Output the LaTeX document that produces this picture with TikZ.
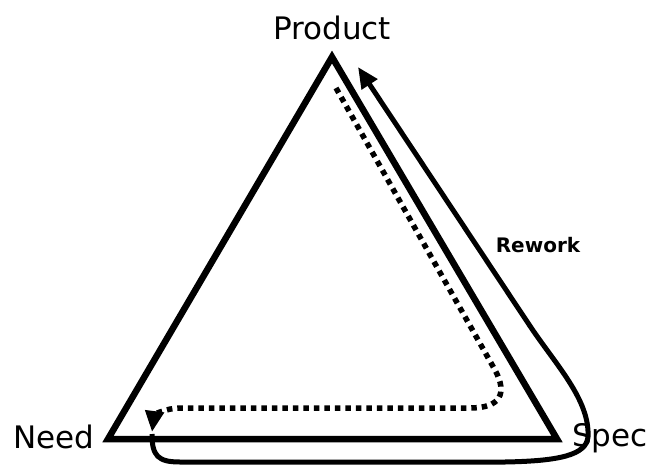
\documentclass[tikz,border=0pt]{standalone}
\usepackage{fontspec}
\setmainfont{DejaVu Sans}
\usetikzlibrary{arrows.meta}
\begin{document}
\begin{tikzpicture}[x=1pt,y=-1pt,
  edge/.style={line width=6.5pt,line join=miter},
  dotline/.style={line width=5.5pt,dash pattern=on 5.5pt off 5pt},
  rework/.style={line width=5pt},
  tip/.style={-{Triangle[length=21pt,width=18pt]}},
  lbl/.style={font=\fontsize{31}{34}\selectfont,inner sep=0pt},
  small/.style={font=\bfseries\fontsize{20}{22}\selectfont,inner sep=0pt}]
\useasboundingbox (0,0) rectangle (657,464);
\coordinate (top) at (332,57);
\coordinate (left) at (108,439);
\coordinate (right) at (557,439);
\draw[edge] (top) -- (right) -- (left) -- cycle;
% dotted path
\coordinate (d0) at (336,88);
\coordinate (d1) at (495,370);
\coordinate (d2) at (470,408);
\coordinate (d3) at (180,408);
\coordinate (d4) at (152,432);
\draw[dotline,tip] (d0) -- (d1) .. controls (508,394) and (500,408) .. (d2) -- (d3) .. controls (165,408) and (154,416) .. (d4);
% rework path
\coordinate (r0) at (152,434);
\coordinate (r1) at (180,462);
\coordinate (r2) at (505,462);
\coordinate (r3) at (588,437);
\coordinate (r4) at (530,326);
\coordinate (r5) at (358,67);
\draw[rework,tip] (r0) .. controls (152,456) and (158,462) .. (r1) -- (r2) .. controls (560,461) and (586,455) .. (r3) .. controls (590,400) and (556,365) .. (r4) -- (r5);
\node[lbl] (product) at (332,28) {Product};
\node[lbl] (need) at (54,437) {Need};
\node[lbl] (spec) at (610,438) {Spec};
\node[small] (rw) at (538,245) {Rework};
\end{tikzpicture}
\end{document}
